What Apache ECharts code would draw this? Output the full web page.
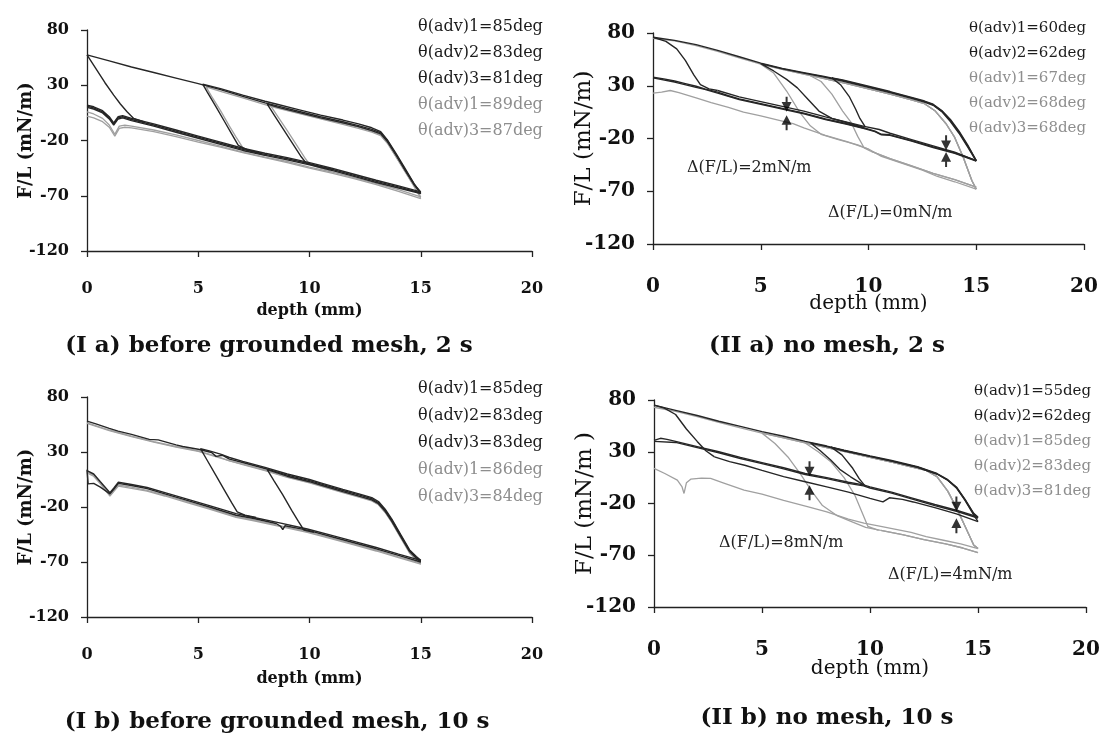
<!DOCTYPE html>
<html>
<head>
<meta charset="utf-8">
<title>F/L vs depth</title>
<script src="https://cdn.jsdelivr.net/npm/echarts/dist/echarts.min.js"></script>
<style>
  html, body { margin: 0; padding: 0; background: #ffffff; }
  #wrap { position: relative; width: 1101px; height: 735px; overflow: hidden; background: #ffffff; }
  .panel { position: absolute; }
</style>
</head>
<body>
<div id="wrap">
  <div class="panel" id="pIa"  style="left:0;top:0;width:550px;height:367px"></div>
  <div class="panel" id="pIIa" style="left:550px;top:0;width:551px;height:367px"></div>
  <div class="panel" id="pIb"  style="left:0;top:367px;width:550px;height:368px"></div>
  <div class="panel" id="pIIb" style="left:550px;top:367px;width:551px;height:368px"></div>
</div>
<script>
// ---------- axis ticks ----------
const X_TICKS = [0, 5, 10, 15, 20];
const Y_TICKS = [-120, -70, -20, 30, 80];

// ---------- (I a) before grounded mesh, 2 s ----------
const ia_adv_d1 = [[0,11],[0.3,9.5],[0.7,6],[1.0,0.5],[1.2,-5],[1.4,0.5],[1.6,1.5],[2,-1],[3,-6],[4,-11.5],[5,-17],[6,-22.5],[7,-28],[8,-32.5],[9,-36.5],[10,-41],[11,-46],[12,-51.5],[13,-57],[14,-62],[15,-67.5]];
const ia_rec_d1 = [[15,-67.5],[14.7,-60],[14.3,-47],[13.9,-33],[13.5,-20],[13.2,-13],[12.8,-10],[12.2,-6.5],[11.5,-3],[10.5,1.5],[9.5,6.5],[8.5,11.5],[8,14],[7,20],[6,26],[5,31.5],[4,36.5],[3,41.5],[2,46.5],[1,52],[0,57.5]];
const ia_drop0 = [[0,57.5],[0.4,45],[0.8,32.5],[1.2,21],[1.5,13],[1.8,6],[2.1,0],[2.6,-3.5]];
const ia_adv_d2 = [[0,10],[0.3,8.5],[0.7,5],[1.0,-0.5],[1.2,-6],[1.4,-0.5],[1.6,0.5],[2,-2],[3,-7],[4,-12.5],[5,-18],[6,-23.5],[7,-29],[8,-33.5],[9,-37.5],[10,-42],[11,-47],[12,-52.5],[13,-58],[14,-63],[15,-68]];
const ia_rec_d2 = [[15,-68],[14.7,-59],[14.3,-45.5],[13.9,-32],[13.5,-19.5],[13.2,-12],[12.8,-8.5],[12.2,-5],[11.5,-1.5],[10.5,3],[9.5,8],[8.5,13],[8,15.5],[7,21],[6,27],[5.2,31],[5.4,24],[5.8,10.5],[6.2,-3.5],[6.5,-14],[6.8,-24.5],[7.2,-28.5],[7.8,-31.5]];
const ia_adv_d3 = [[0,12],[0.3,10.5],[0.7,7],[1.0,1.5],[1.2,-4],[1.4,1.5],[1.6,2.5],[2,0],[3,-5],[4,-10.5],[5,-16],[6,-21.5],[7,-27],[8,-31.5],[9,-35.5],[10,-40],[11,-45],[12,-50.5],[13,-56],[14,-61],[15,-66.5]];
const ia_rec_d3 = [[15,-66.5],[14.7,-59.5],[14.3,-46.5],[13.9,-33.5],[13.5,-21],[13.2,-14],[12.8,-11],[12.2,-7.5],[11.5,-4],[10.5,0.5],[9.5,5.5],[8.6,10],[8.1,13],[8.4,3.5],[8.8,-9],[9.2,-21.5],[9.6,-34],[9.85,-40.5],[10.3,-43],[11,-46]];
const ia_adv_g1 = [[0,6],[0.3,4],[0.7,0],[1.0,-6],[1.25,-14.5],[1.45,-7],[1.7,-6],[2,-7],[3,-10.5],[4,-15],[5,-20],[6,-25],[7,-30.5],[8,-35],[9,-39],[10,-44],[11,-48.5],[12,-53.5],[13,-59],[14,-64.5],[15,-71]];
const ia_rec_g1 = [[15,-71],[14.7,-61],[14.3,-48],[13.9,-35],[13.5,-22.5],[13.2,-15.5],[12.8,-12.5],[12.2,-9],[11.5,-5.5],[10.5,-0.5],[9.5,4.5],[8.5,9.5],[8,12.5],[7,18.5],[6,24.5],[5.35,28.5],[5.6,20],[6,7],[6.4,-7],[6.7,-17],[7,-26.5],[7.4,-30],[8,-33.5]];
const ia_adv_g2 = [[0,2],[0.3,0.5],[0.7,-3],[1.0,-8],[1.25,-16],[1.45,-9],[1.7,-8],[2,-8.5],[3,-12],[4,-16.5],[5,-21.5],[6,-26],[7,-31],[8,-35.5],[9,-40],[10,-45],[11,-49.5],[12,-54.5],[13,-60],[14,-66],[15,-72.5]];
const ia_rec_g2 = [[15,-72.5],[14.7,-61.5],[14.3,-48.5],[13.9,-35],[13.5,-22],[13.2,-15],[12.8,-11.5],[12.2,-8],[11.5,-4.5],[10.5,0],[9.5,5],[8.7,9],[8.25,11.5],[8.6,1],[9,-11],[9.4,-23.5],[9.8,-36],[10,-41.5],[10.5,-45],[11,-48]];

// ---------- (I b) before grounded mesh, 10 s ----------
const ib_adv_d1 = [[0,14],[0.05,1],[0.3,1.5],[0.6,-2],[1.03,-8],[1.2,-4],[1.41,1.5],[2,-0.5],[2.7,-3.3],[3.5,-8],[4.5,-14],[5.5,-20],[6.7,-27.5],[7.5,-30.5],[8.5,-35],[8.7,-37.5],[8.8,-40.5],[8.9,-37],[9.9,-41],[11,-47],[12,-52.5],[13,-58],[14,-64],[15,-70]];
const ib_rec_d1 = [[15,-69],[14.8,-66],[14.5,-60],[14.1,-46],[13.7,-32],[13.4,-23],[13.1,-16],[12.8,-12.5],[12.3,-9.5],[11.5,-5],[10.5,1],[10,4],[9,9],[8,15],[7,20.5],[6.4,23.5],[6.1,27],[5.8,26],[5.6,29.5],[5,32.5],[4.3,35],[4,36.5],[3.2,41],[2.8,41.5],[2,46],[1.4,49],[1,51.5],[0.4,55.5],[0,58]];
const ib_adv_d2 = [[0,13],[0.3,10],[0.6,3],[1.03,-7],[1.2,-3],[1.41,2.5],[2,0.5],[2.7,-2.3],[3.5,-7],[4.5,-12.8],[5.5,-18.8],[6.7,-26],[7.5,-29.5],[8.5,-33.8],[9.9,-40],[11,-45.8],[12,-51.3],[13,-56.8],[14,-62.8],[15,-68.5]];
const ib_rec_d2 = [[15,-68.5],[14.8,-65],[14.5,-59],[14.1,-45],[13.7,-31],[13.4,-22],[13.1,-15],[12.8,-11.5],[12.3,-8.5],[11.5,-4],[10.5,2],[10,5],[9,10],[8,16],[7,21.5],[6.4,25],[6,28],[5.5,31],[5.1,33],[5.4,22.5],[5.8,8.5],[6.2,-5.5],[6.5,-16],[6.75,-24.5],[7.1,-27.5],[7.6,-29.5]];
const ib_rec_d3 = [[15,-70],[14.8,-66.5],[14.5,-60.5],[14.1,-47],[13.7,-33],[13.4,-24],[13.1,-17],[12.8,-13.5],[12.3,-10.5],[11.5,-6],[10.5,0],[10,3],[9,8],[8.1,14],[8.4,4],[8.8,-9],[9.2,-23],[9.5,-33],[9.75,-41],[10.2,-43]];
const ib_adv_g1 = [[0,12],[0.3,9],[0.6,2],[1.03,-9.5],[1.2,-5],[1.41,0],[2,-2],[2.7,-4.8],[3.5,-9.2],[4.5,-15.2],[5.5,-21.2],[6.7,-28.8],[7.5,-31.8],[8.5,-36.3],[9.9,-42.3],[11,-48.3],[12,-53.8],[13,-59.3],[14,-65.3],[15,-71]];
const ib_rec_g1 = [[15,-71],[14.8,-67],[14.5,-61],[14.1,-47.5],[13.7,-33.5],[13.4,-24.5],[13.1,-17.5],[12.8,-14],[12.3,-11],[11.5,-6.5],[10.5,-0.5],[10,2.5],[9,7.5],[8,13.5],[7,19],[6.4,22],[6,25],[5.6,27.5],[5,31],[4,35],[3,39.5],[2,44.5],[1,50],[0,56.5]];
const ib_adv_g2 = [[0,11],[0.3,8],[0.6,1],[1.03,-10],[1.2,-6],[1.41,-1],[2,-3],[2.7,-5.5],[3.5,-10],[4.5,-16],[5.5,-22],[6.7,-29.5],[7.5,-32.5],[8.5,-37],[9.9,-43],[11,-49],[12,-54.5],[13,-60],[14,-66],[15,-72]];
const ib_rec_g2 = [[15,-72],[14.8,-68],[14.5,-62],[14.1,-48],[13.7,-34],[13.4,-25],[13.1,-18],[12.8,-14.5],[12.3,-11.5],[11.5,-7],[10.5,-1],[10,2],[9,7],[8,13],[7,18.5],[6,24.5],[5,30.5],[4,34.5],[3,39],[2,44],[1,49.5],[0,56]];

// ---------- (II a) no mesh, 2 s ----------
const iia_adv_a = [[0,38],[0.5,36.5],[1,34.5],[1.5,32],[2,29.5],[2.4,27],[3,24],[3.5,20.5],[4,17.5],[5,13],[6,8.5],[7,4],[8,-1.5],[9,-6],[9.8,-10],[10.3,-13],[10.6,-16],[11,-16.5],[12,-22],[13,-28],[14,-33.5],[15,-41]];
const iia_rec_a = [[15,-41],[14.6,-27],[14.2,-14],[13.8,-3],[13.4,6],[13,12],[12.6,15],[12,18.5],[11,24],[10,29],[8.8,35],[8,38.5],[7,42.5],[6,46.5],[5,51.5],[4,57.5],[3,63.5],[2,69],[1,73],[0,76]];
const iia_drop0 = [[0,76],[0.6,72],[1.1,65],[1.5,54],[1.9,40],[2.2,31],[2.6,27],[3,25.5]];
const iia_adv_b = [[3,25.5],[4,19.5],[5,15],[6,10.5],[7,6],[8,0.5],[9,-4.5],[9.8,-8.5],[10.5,-11.5],[11,-15],[12,-21],[13,-27],[14,-33],[15,-41]];
const iia_rec_b = [[15,-41],[14.6,-26],[14.2,-13],[13.8,-2],[13.4,6.5],[13,12.5],[12.6,15.5],[12,19],[11,24.5],[10,29.5],[8.8,35.5],[8.3,37.5],[8.7,31],[9.1,20],[9.4,8],[9.6,-1],[9.85,-9]];
const iia_adv_c = [[0,37.5],[1,33.5],[2,28.5],[2.4,26.5],[3,23],[4,17],[5,12.5],[6,8],[7,3.5],[8,-2],[9,-6.5],[9.8,-10.5],[10.3,-13.5],[10.6,-16.5],[11,-17],[12,-22.5],[13,-28.5],[14,-34],[15,-41.5]];
const iia_rec_c = [[15,-41.5],[14.6,-28],[14.2,-15],[13.8,-4],[13.4,5.5],[13,11.5],[12.6,14.5],[12,18],[11,23.5],[10,28.5],[8.8,34.5],[8,38],[7,42],[6,46],[5,51],[5.6,44],[6.2,36],[6.7,28],[7.2,17],[7.7,6],[8.3,-1],[9.1,-5.5],[9.8,-9.5]];
const iia_g_adv = [[0,23],[0.4,24],[0.8,25.5],[1.2,23.5],[2,18.5],[2.7,14],[3.5,9.5],[4.2,5],[5,1.5],[6,-3.5],[6.5,-6],[7,-10],[8,-17],[9,-23],[10,-30],[10.6,-37],[11.5,-43],[12.5,-50],[13.2,-56],[14,-61],[15,-68]];
const iia_g_rec = [[15,-68],[14.8,-60],[14.4,-38],[14,-19],[13.6,-6],[13.1,6],[12.6,13],[12,16.5],[11,22],[10,27],[9,32],[8,36.5],[7,41],[6,45.5],[5,50.5],[4,56.5],[3,62.5],[2,68],[1,72.5],[0,75]];
const iia_g_drop5 = [[5,50.5],[5.6,42],[6.2,25],[6.8,5],[7.3,-8],[7.8,-16],[8.6,-21],[9.5,-26],[10,-30]];
const iia_g_drop7 = [[7.3,39.5],[7.8,34],[8.3,22],[8.8,6],[9.2,-5],[9.5,-18],[9.8,-29],[10.1,-32]];
const iia_g_low2 = [[10.1,-32],[11,-39],[12,-46],[13,-53],[14,-59],[15,-66]];
const iia_arrow_down = [[6.2,12.5],[13.6,-24]];
const iia_arrow_up = [[6.2,-5],[13.6,-40]];

// ---------- (II b) no mesh, 10 s ----------
const iib_adv_a = [[0,41],[0.3,43],[0.6,42],[1,40],[2,35],[3,30],[4,24.5],[5,19.5],[6,14.5],[7,9],[8,5],[9,0.5],[9.7,-2],[10,-4],[11,-9],[12,-15],[13,-21],[14,-26.5],[15,-33]];
const iib_rec_a = [[15,-33],[14.8,-29.5],[14.4,-16],[14,-4],[13.6,3],[13.1,9],[12.2,15.5],[11,21.5],[10,26],[8.8,31.6],[8,35.5],[7,40],[6,45],[5,49.5],[4,54.5],[3,59.5],[2,65],[1,70],[0,75]];
const iib_drop0 = [[0,75],[0.5,72],[1,66],[1.5,52],[2,40],[2.4,31],[2.8,25]];
const iib_adv_b = [[2.8,25],[3.5,20.5],[4.2,17],[5,12],[6,6],[7,1],[8,-4],[9,-9],[10,-15],[10.6,-18.5],[10.9,-14.5],[11.5,-16],[12,-18.5],[13,-24],[14,-30],[15,-37.5]];
const iib_rec_b = [[15,-37.5],[14.8,-31],[14.4,-17],[14,-5],[13.6,2.5],[13.1,8.5],[12.2,15],[11,21],[10,25.5],[8.8,31],[8,35],[7.25,38.5],[7.7,31],[8.18,22],[8.6,13],[9.1,5.8],[9.72,-2.2]];
const iib_adv_c = [[0,40],[1,39],[2,34],[3,29],[4,23.5],[5,18.5],[6,13.5],[7,8],[8,4],[9,-0.5],[9.7,-3],[10,-5],[11,-10],[12,-16],[13,-22],[14,-27.5],[15,-34]];
const iib_rec_c = [[15,-34],[14.8,-30],[14.4,-16.5],[14,-4.5],[13.6,2.5],[13.1,8.5],[12.2,15],[11,21],[10,25.5],[8.8,31],[8.2,34.5],[8.7,27],[9.2,14],[9.5,4],[9.75,-2.5]];
const iib_g_adv = [[0,14],[0.5,9],[1.08,2.6],[1.3,-4],[1.39,-10.3],[1.5,0],[1.7,3.5],[2.2,4.5],[2.62,4.2],[3.2,0],[4.17,-7],[5,-11],[6,-17],[7.1,-23],[8,-28],[9,-35],[9.72,-39],[10.5,-42],[11.2,-45],[11.9,-48],[12.6,-52],[13.4,-55.5],[14.2,-59],[15,-63.5]];
const iib_g_rec = [[15,-63.5],[14.8,-60],[14.4,-42],[14,-24],[13.6,-8],[13.1,6],[12.6,12],[12,15],[11,20],[10,24.5],[9,29.5],[8,34],[7,38.5],[6,43.5],[5,48],[4,53],[3,58.5],[2,64],[1,69],[0,73]];
const iib_g_drop5 = [[5,48],[5.6,38],[6.2,25],[6.8,8],[7.3,-8],[7.8,-22],[8.5,-32],[9.2,-38],[9.8,-43],[10.5,-46]];
const iib_g_drop7 = [[7,38.5],[7.6,30],[8.2,20],[8.8,5],[9.3,-12],[9.6,-27],[9.9,-42],[10.4,-46]];
const iib_g_low2 = [[10.5,-46],[11.5,-50],[12.5,-55],[13.5,-59],[14.3,-63],[15,-67.5]];
const iib_arrow_down = [[7.2,13.5],[14.0,-20.5]];
const iib_arrow_up = [[7.2,-9.5],[14.0,-41.5]];

// ---------- drawing ----------
const FONT = '"DejaVu Serif", "Liberation Serif", serif';
const DARK = '#262626', GRAY = '#a0a0a0';
const DARK_TEXT = '#1c1c1c', GRAY_TEXT = '#8e8e8e';
const ARROW_DOWN = 'path://M4,0L6,0L6,5L10,5L5,14L0,5L4,5Z';
const ARROW_UP = 'path://M5,0L10,9L6,9L6,14L4,14L4,9L0,9Z';

// keep the part of a withdrawal trace that lies at or beyond a given depth
function tail(points, xFrom) { return points.filter(p => p[0] >= xFrom); }

function makePanel(id, cfg) {
  const chart = echarts.init(document.getElementById(id), null, { renderer: 'canvas' });
  const big = cfg.kind === 'II';
  const series = [];
  const ordered = cfg.runs.filter(r => r.tone === 'gray').concat(cfg.runs.filter(r => r.tone === 'dark'));
  ordered.forEach(run => run.parts.forEach(part => series.push({
    type: 'line', name: run.name, data: part, symbol: 'none', showSymbol: false,
    lineStyle: { color: run.tone === 'dark' ? DARK : GRAY, width: run.tone === 'dark' ? 1.4 : 1.3 },
    itemStyle: { color: run.tone === 'dark' ? DARK : GRAY },
    emphasis: { disabled: true }, silent: true, z: run.tone === 'dark' ? 3 : 2
  })));
  if (cfg.arrowsDown) {
    series.push({ type: 'scatter', name: 'arrow-down', data: cfg.arrowsDown, symbol: ARROW_DOWN,
      symbolSize: [10, 15], itemStyle: { color: '#000' }, silent: true, z: 5 });
    series.push({ type: 'scatter', name: 'arrow-up', data: cfg.arrowsUp, symbol: ARROW_UP,
      symbolSize: [10, 15], itemStyle: { color: '#000' }, silent: true, z: 5 });
  }
  const axisLine = { show: true, onZero: false, lineStyle: { color: '#222', width: 1.3 } };
  const axisTick = { show: true, inside: false, length: 6, lineStyle: { color: '#222', width: 1.3 } };
  const tickFont = { fontFamily: FONT, fontWeight: 'bold', fontSize: big ? 20 : 16, color: '#111' };
  chart.setOption({
    animation: false,
    grid: Object.assign({ outerBoundsMode: 'none', containLabel: false }, cfg.grid),
    xAxis: {
      type: 'value', min: X_TICKS[0], max: X_TICKS[X_TICKS.length - 1], interval: X_TICKS[1] - X_TICKS[0],
      axisLine, axisTick, splitLine: { show: false },
      axisLabel: Object.assign({ margin: cfg.xLabelMargin }, tickFont),
      name: 'depth (mm)', nameLocation: 'middle', nameGap: cfg.xNameGap, nameMoveOverlap: false,
      nameTextStyle: { fontFamily: FONT, fontWeight: big ? 'normal' : 'bold', fontSize: big ? 20 : 16, color: '#111' }
    },
    yAxis: {
      type: 'value', min: Y_TICKS[0], max: Y_TICKS[Y_TICKS.length - 1], interval: Y_TICKS[1] - Y_TICKS[0],
      axisLine, axisTick, splitLine: { show: false },
      axisLabel: Object.assign({ margin: 18 }, tickFont),
      name: cfg.yName, nameLocation: 'middle', nameGap: cfg.yNameGap, nameRotate: 90, nameMoveOverlap: false,
      nameTextStyle: { fontFamily: FONT, fontWeight: big ? 'normal' : 'bold', fontSize: big ? 23 : 18, color: '#111' }
    },
    legend: {
      orient: 'vertical', left: cfg.legend.left, top: cfg.legend.top, padding: 0,
      icon: 'none', itemWidth: 0, itemHeight: cfg.legend.line, itemGap: cfg.legend.gap,
      selectedMode: false,
      textStyle: { fontFamily: FONT, fontSize: cfg.legend.size, lineHeight: cfg.legend.line },
      data: cfg.runs.map(r => ({ name: r.name, textStyle: { color: r.tone === 'dark' ? DARK_TEXT : GRAY_TEXT } }))
    },
    graphic: cfg.texts.map(t => ({
      type: 'text', x: t.x, y: t.y, silent: true,
      style: { text: t.text, font: t.font, fill: t.color || '#111',
        align: t.align || 'left', textAlign: t.align || 'left',
        verticalAlign: 'middle', textVerticalAlign: 'middle' }
    })),
    series
  });
}

const TITLE_FONT = 'bold 23px "DejaVu Serif"';
const NOTE_FONT = '16px "DejaVu Serif"';

makePanel('pIa', {
  kind: 'I',
  grid: { left: 87, top: 30, width: 445, height: 221 },
  xLabelMargin: 30, xNameGap: 52, yNameGap: 52, yName: 'F/L (mN/m)',
  legend: { left: 413, top: 18, size: 16, line: 18, gap: 8 },
  runs: [
    { name: 'θ(adv)1=85deg', tone: 'dark', parts: [ia_adv_d1, ia_rec_d1, ia_drop0] },
    { name: 'θ(adv)2=83deg', tone: 'dark', parts: [ia_adv_d2, ia_rec_d2] },
    { name: 'θ(adv)3=81deg', tone: 'dark', parts: [ia_adv_d3, ia_rec_d3] },
    { name: 'θ(adv)1=89deg', tone: 'gray', parts: [ia_adv_g1, ia_rec_g1] },
    { name: 'θ(adv)3=87deg', tone: 'gray', parts: [ia_adv_g2, ia_rec_g2] }
  ],
  texts: [ { text: '(I a) before grounded mesh, 2 s', x: 269, y: 346, font: TITLE_FONT, align: 'center' } ]
});

makePanel('pIIa', {
  kind: 'II',
  grid: { left: 103, top: 33, width: 431, height: 211 },
  xLabelMargin: 33, xNameGap: 50, yNameGap: 57, yName: 'F/L (mN/m)',
  legend: { left: 414, top: 20, size: 15, line: 17, gap: 8 },
  runs: [
    { name: 'θ(adv)1=60deg', tone: 'dark', parts: [iia_adv_a, iia_rec_a, iia_drop0, iia_adv_b, iia_rec_b] },
    { name: 'θ(adv)2=62deg', tone: 'dark', parts: [iia_adv_c, iia_rec_c] },
    { name: 'θ(adv)1=67deg', tone: 'gray', parts: [iia_g_adv, tail(iia_g_rec, 5), iia_g_drop5, iia_g_low2] },
    { name: 'θ(adv)2=68deg', tone: 'gray', parts: [tail(iia_g_rec, 7.3), iia_g_drop7, iia_g_low2] },
    { name: 'θ(adv)3=68deg', tone: 'gray', parts: [iia_g_rec] }
  ],
  arrowsDown: iia_arrow_down, arrowsUp: iia_arrow_up,
  texts: [
    { text: '(II a) no mesh, 2 s', x: 277, y: 346, font: TITLE_FONT, align: 'center' },
    { text: 'Δ(F/L)=2mN/m', x: 137, y: 168, font: NOTE_FONT, color: '#222' },
    { text: 'Δ(F/L)=0mN/m', x: 278, y: 213, font: NOTE_FONT, color: '#222' }
  ]
});

makePanel('pIb', {
  kind: 'I',
  grid: { left: 87, top: 30, width: 445, height: 220 },
  xLabelMargin: 30, xNameGap: 54, yNameGap: 52, yName: 'F/L (mN/m)',
  legend: { left: 413, top: 13, size: 16, line: 18, gap: 9 },
  runs: [
    { name: 'θ(adv)1=85deg', tone: 'dark', parts: [ib_adv_d1, ib_rec_d1] },
    { name: 'θ(adv)2=83deg', tone: 'dark', parts: [ib_adv_d2, ib_rec_d2] },
    { name: 'θ(adv)3=83deg', tone: 'dark', parts: [ib_rec_d3] },
    { name: 'θ(adv)1=86deg', tone: 'gray', parts: [ib_adv_g1, ib_rec_g1] },
    { name: 'θ(adv)3=84deg', tone: 'gray', parts: [ib_adv_g2, ib_rec_g2] }
  ],
  texts: [ { text: '(I b) before grounded mesh, 10 s', x: 277, y: 355, font: TITLE_FONT, align: 'center' } ]
});

makePanel('pIIb', {
  kind: 'II',
  grid: { left: 104, top: 33, width: 432, height: 207 },
  xLabelMargin: 33, xNameGap: 52, yNameGap: 57, yName: 'F/L (mN/m )',
  legend: { left: 419, top: 16, size: 15, line: 17, gap: 8 },
  runs: [
    { name: 'θ(adv)1=55deg', tone: 'dark', parts: [iib_adv_a, iib_rec_a, iib_drop0, iib_adv_b, iib_rec_b] },
    { name: 'θ(adv)2=62deg', tone: 'dark', parts: [iib_adv_c, iib_rec_c] },
    { name: 'θ(adv)1=85deg', tone: 'gray', parts: [iib_g_adv, tail(iib_g_rec, 5), iib_g_drop5, iib_g_low2] },
    { name: 'θ(adv)2=83deg', tone: 'gray', parts: [tail(iib_g_rec, 7), iib_g_drop7, iib_g_low2] },
    { name: 'θ(adv)3=81deg', tone: 'gray', parts: [iib_g_rec] }
  ],
  arrowsDown: iib_arrow_down, arrowsUp: iib_arrow_up,
  texts: [
    { text: '(II b) no mesh, 10 s', x: 277, y: 351, font: TITLE_FONT, align: 'center' },
    { text: 'Δ(F/L)=8mN/m', x: 169, y: 176, font: NOTE_FONT, color: '#222' },
    { text: 'Δ(F/L)=4mN/m', x: 338, y: 208, font: NOTE_FONT, color: '#222' }
  ]
});
</script>
</body>
</html>
